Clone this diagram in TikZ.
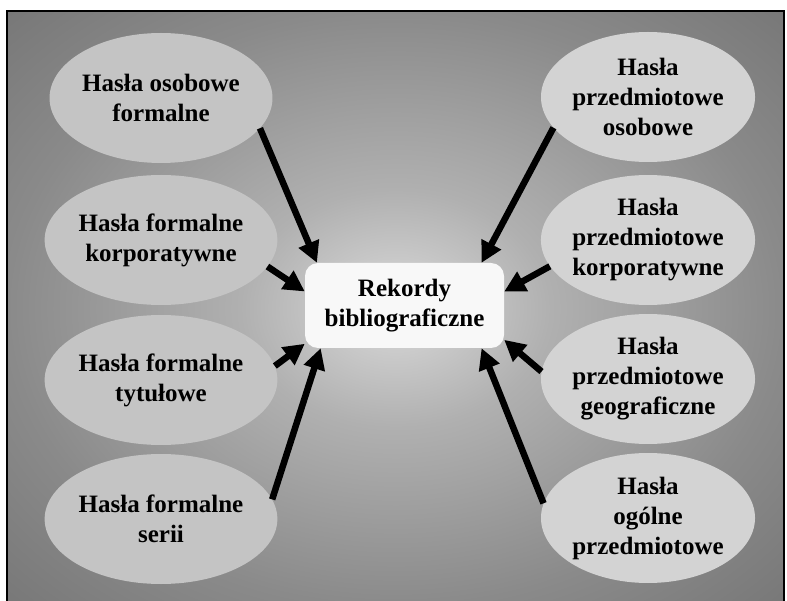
\documentclass[tikz,border=0pt]{standalone}
\usepackage{fontspec}
\setmainfont{Liberation Serif}
\usetikzlibrary{shapes.geometric,arrows.meta}
\definecolor{bgA}{HTML}{DADADA}
\definecolor{bgB}{HTML}{B0B0B0}
\definecolor{bgC}{HTML}{8A8A8A}
\definecolor{bgD}{HTML}{6C6C6C}
\definecolor{bgE}{HTML}{5A5A5A}
\definecolor{bgF}{HTML}{545454}
\definecolor{ellL}{HTML}{C4C4C4}
\definecolor{ellR}{HTML}{D3D3D3}
\definecolor{boxfill}{HTML}{F8F8F8}
\pgfdeclareradialshading{bgshade}{\pgfpoint{0bp}{0bp}}{color(0bp)=(bgA); color(10bp)=(bgB); color(25bp)=(bgC); color(42bp)=(bgD); color(62bp)=(bgE); color(72bp)=(bgF)}
\tikzset{
  ent/.style={ellipse, minimum width=212pt, minimum height=130pt, inner sep=0pt,
    align=center, font=\fontsize{25}{30}\selectfont\bfseries},
  entL/.style={ent, fill=ellL},
  entR/.style={ent, fill=ellR},
  centre/.style={rectangle, rounded corners=13pt, fill=boxfill, minimum width=199pt,
    minimum height=85pt, align=center, font=\fontsize{25}{30}\selectfont\bfseries},
  link/.style={line width=6.5pt, -{Triangle[length=21pt,width=21pt]}}
}
\begin{document}
\begin{tikzpicture}[x=1pt,y=-1pt]
\useasboundingbox (0,0) rectangle (787,601);
\shade[shading=bgshade] (7,11) rectangle (784,606);
\draw[line width=2.2pt] (7,606) -- (7,11) -- (784,11) -- (784,606);

\node[centre] (box) at (404.5,305.5) {Rekordy\\bibliograficzne};

\node[entL] (l1) at (161,98) {Hasła osobowe\\formalne};
\node[entL] (l2) at (161,240) {Hasła formalne\\korporatywne};
\node[entL] (l3) at (161,380) {Hasła formalne\\tytułowe};
\node[entL] (l4) at (161,519) {Hasła formalne\\serii};

\node[entR] (r1) at (648,97) {Hasła\\przedmiotowe\\osobowe};
\node[entR] (r2) at (648,240) {Hasła\\przedmiotowe\\korporatywne};
\node[entR] (r3) at (648,379) {Hasła\\przedmiotowe\\geograficzne};
\node[entR] (r4) at (648,518) {Hasła\\ogólne\\przedmiotowe};

\draw[link] (l1.-17) -- (box.154);
\draw[link] (l2.-14) -- (box.172);
\draw[link] (l3.7) -- (box.201);
\draw[link] (l4.10) -- (box.207);

\draw[link] (r1.198) -- (box.29);
\draw[link] (r2.195) -- (box.8);
\draw[link] (r3.176) -- (box.-19);
\draw[link] (r4.172) -- (box.-29);
\end{tikzpicture}
\end{document}
